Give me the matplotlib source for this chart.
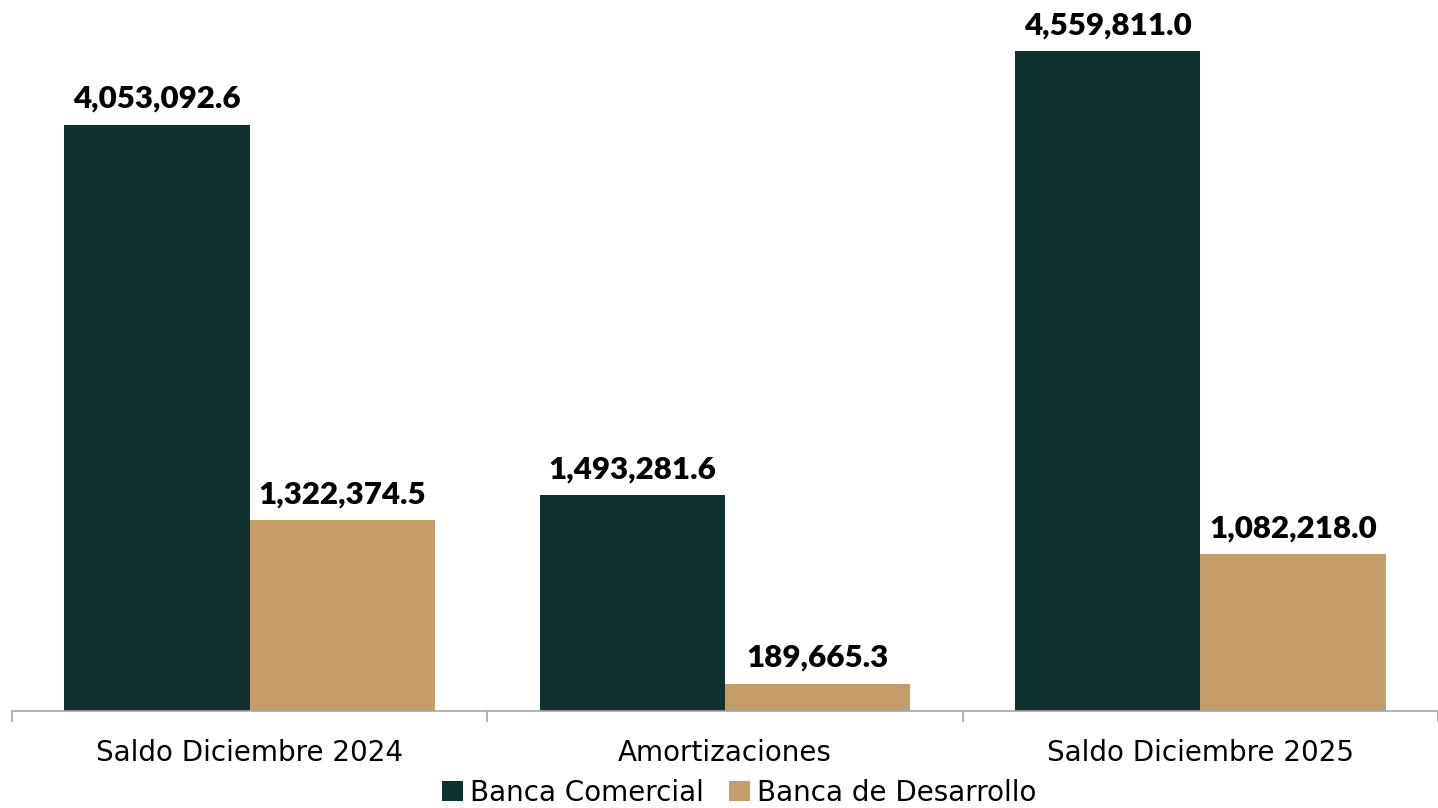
import matplotlib.pyplot as plt
import numpy as np

categories = ['Saldo Diciembre 2024', 'Amortizaciones', 'Saldo Diciembre 2025']
comercial = [4053092.6, 1493281.6, 4559811.0]
desarrollo = [1322374.5, 189665.3, 1082218.0]
series_names = ['Banca Comercial', 'Banca de Desarrollo']

dark = '#0F3130'
tan = '#C69C68'

plt.rcParams['font.family'] = ['DejaVu Sans']

fig = plt.figure(figsize=(14.38, 8.08), dpi=100)
ax = fig.add_axes([12 / 1438, 97 / 808, 1426 / 1438, 711 / 808])

x = np.arange(len(categories))
w = 187 / 480
b1 = ax.bar(x - w / 2, comercial, w, color=dark, label=series_names[0])
b2 = ax.bar(x + w / 2, desarrollo, w, color=tan, label=series_names[1])

for bars in (b1, b2):
    for r in bars:
        v = r.get_height()
        ax.annotate(f'{v:,.1f}', (r.get_x() + r.get_width() / 2, v),
                    xytext=(0, 12), textcoords='offset points',
                    ha='center', va='baseline', fontsize=22.5, fontweight='heavy',
                    family=['Lato', 'DejaVu Sans'])

ax.set_xlim(-0.5, -0.5 + 1426 / 480)
ax.set_ylim(0, 4915000)
ax.set_yticks([])
for s in ['top', 'right', 'left']:
    ax.spines[s].set_visible(False)
ax.spines['bottom'].set_color('#A6A6A6')
ax.spines['bottom'].set_linewidth(1.2)

ax.set_xticks([-0.5, 0.5, 1.5, 2.5])
ax.set_xticklabels([])
ax.tick_params(axis='x', length=8, color='#A6A6A6', width=1.2)
for i, c in enumerate(categories):
    ax.text(i, -0.04, c, transform=ax.get_xaxis_transform(), ha='center',
            va='top', fontsize=20)

fig.legend(handles=[b1, b2], loc='center', bbox_to_anchor=(739 / 1438, 15 / 808),
           ncol=2, frameon=False, fontsize=20, handlelength=0.75, handleheight=0.75,
           handletextpad=0.25, columnspacing=0.9, borderaxespad=0)

fig.savefig('out.png', dpi=100)
